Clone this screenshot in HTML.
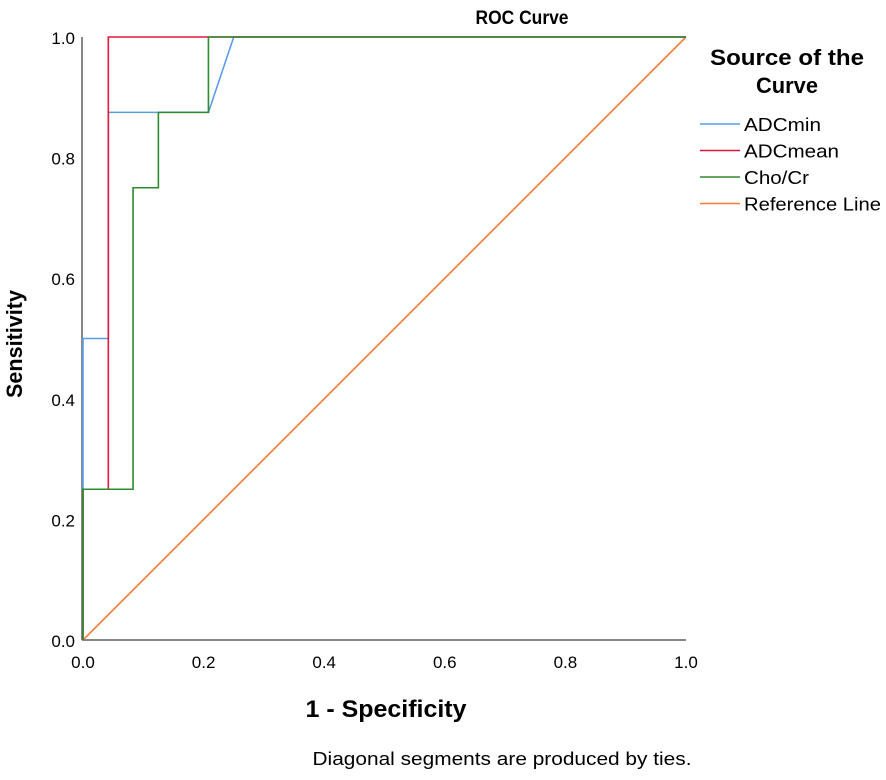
<!DOCTYPE html>
<html><head><meta charset="utf-8"><style>
body{margin:0;background:#fff;}
svg text{font-family:"Liberation Sans",Arial,sans-serif;fill:#000;}
</style></head><body>
<svg width="886" height="775" viewBox="0 0 886 775">
<text x="522" y="24" font-size="19" font-weight="bold" text-anchor="middle" textLength="93" lengthAdjust="spacingAndGlyphs">ROC Curve</text>
<g id="yticks"></g>
<g id="xticks"></g>
<g id="series"></g>
<text x="386" y="717" font-size="24" font-weight="bold" text-anchor="middle" textLength="161" lengthAdjust="spacingAndGlyphs">1 - Specificity</text>
<text transform="translate(22,344) rotate(-90)" font-size="22" font-weight="bold" text-anchor="middle" textLength="108" lengthAdjust="spacingAndGlyphs">Sensitivity</text>
<text x="502" y="765" font-size="18" text-anchor="middle" textLength="379" lengthAdjust="spacingAndGlyphs">Diagonal segments are produced by ties.</text>
<g>
<text x="787" y="65" font-size="22" font-weight="bold" text-anchor="middle" textLength="154" lengthAdjust="spacingAndGlyphs">Source of the</text>
<text x="787" y="93" font-size="22" font-weight="bold" text-anchor="middle" textLength="62" lengthAdjust="spacingAndGlyphs">Curve</text>
<g id="legend"></g>
</g>
</svg>
<script>
const xTicks=[0,0.2,0.4,0.6,0.8,1.0];
const yTicks=[0,0.2,0.4,0.6,0.8,1.0];
const seriesNames=["ADCmin","ADCmean","Cho/Cr","Reference Line"];
const seriesColors=["#5b9bea","#e3183f","#2e8b2e","#f47b3a"];
const legendWidths=[77,95,65,137];
const adcminX=[0,0,0.042,0.042,0.208,0.25,1];
const adcminY=[0,0.5,0.5,0.875,0.875,1,1];
const adcmeanX=[0,0,0.042,0.042,1];
const adcmeanY=[0,0.25,0.25,1,1];
const chocrX=[0,0,0.083,0.083,0.125,0.125,0.208,0.208,1];
const chocrY=[0,0.25,0.25,0.75,0.75,0.875,0.875,1,1];
const refX=[0,1];
const refY=[0,1];
const NS="http://www.w3.org/2000/svg";
const X0=83,X1=686,Y0=640,Y1=37;
const sx=v=>X0+v*(X1-X0), sy=v=>Y0-v*(Y0-Y1);
function mk(t,a,p){const e=document.createElementNS(NS,t);for(const k in a)e.setAttribute(k,a[k]);p.appendChild(e);return e;}
const yg=document.getElementById('yticks'),xg=document.getElementById('xticks');
const yl=mk('line',{x1:X0-1,x2:X0-1,y1:Y1,y2:Y0,stroke:'#888','stroke-width':2},yg);


const xl=mk('line',{x1:X0-1,x2:X1,y1:Y0,y2:Y0,stroke:'#888','stroke-width':2},xg);


yTicks.forEach(v=>{const t=mk('text',{x:X0-8,y:sy(v)+7,'font-size':17,'text-anchor':'end'},yg);t.textContent=v.toFixed(1);

});
xTicks.forEach(v=>{const t=mk('text',{x:sx(v),y:668,'font-size':17,'text-anchor':'middle'},xg);t.textContent=v.toFixed(1);

});
const sg=document.getElementById('series');
const data=[[adcminX,adcminY],[adcmeanX,adcmeanY],[chocrX,chocrY],[refX,refY]];
[3,0,1,2].forEach(i=>{const [xs,ys]=data[i];
const p=mk('polyline',{points:xs.map((x,j)=>sx(x)+','+sy(ys[j])).join(' '),fill:'none',stroke:seriesColors[i],'stroke-width':1.6},sg);

});
const lg=document.getElementById('legend');
seriesNames.forEach((n,i)=>{const cy=124+i*26.5;
const l=mk('line',{x1:700,x2:740,y1:cy,y2:cy,stroke:seriesColors[i],'stroke-width':1.6},lg);


const t=mk('text',{x:744,y:cy+7,'font-size':18,textLength:legendWidths[i],lengthAdjust:'spacingAndGlyphs'},lg);t.textContent=n;

});
</script>
</body></html>
